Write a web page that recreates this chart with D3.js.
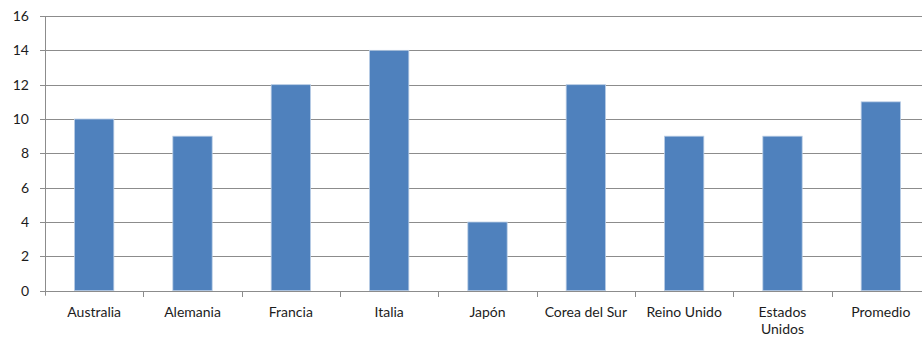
<!DOCTYPE html>
<html>
<head>
<meta charset="utf-8">
<script src="https://cdn.jsdelivr.net/npm/d3@7/dist/d3.min.js"></script>
<style>
  html, body { margin: 0; padding: 0; background: #fff; }
  svg { display: block; }
  text { font-family: Lato, "Open Sans", sans-serif; fill: #1c1c1c; }
</style>
</head>
<body>
<svg id="chart" width="922" height="337"></svg>
<script>
// Country categories and their values
const categories = ["Australia", "Alemania", "Francia", "Italia", "Japón", "Corea del Sur", "Reino Unido", "Estados Unidos", "Promedio"];
const values = [10, 9, 12, 14, 4, 12, 9, 9, 11];
const yTicks = [0, 2, 4, 6, 8, 10, 12, 14, 16];

const svg = d3.select("#chart");
const plotLeft = 45, plotRight = 930, plotTop = 16, plotBottom = 290.7;

const x = d3.scaleBand()
  .domain(categories)
  .range([plotLeft, plotRight])
  .paddingInner(0.6)
  .paddingOuter(0.3);

const y = d3.scaleLinear().domain([0, 16]).range([plotBottom, plotTop]);

// horizontal gridlines
svg.append("g")
  .selectAll("line")
  .data(yTicks)
  .join("line")
  .attr("x1", plotLeft - 5)
  .attr("x2", 922)
  .attr("y1", d => Math.round(y(d)) + 0.5)
  .attr("y2", d => Math.round(y(d)) + 0.5)
  .attr("stroke", "#8c8c8c")
  .attr("stroke-width", 1);

// y tick labels
svg.append("g")
  .selectAll("text")
  .data(yTicks)
  .join("text")
  .attr("x", 29)
  .attr("y", d => y(d))
  .attr("dy", "0.36em")
  .attr("text-anchor", "end")
  .style("font-size", "14px")
  .text(d => d);

// bars
svg.append("g")
  .selectAll("rect")
  .data(values)
  .join("rect")
  .attr("x", (d, i) => x(categories[i]))
  .attr("y", d => y(d))
  .attr("width", x.bandwidth())
  .attr("height", d => plotBottom - y(d))
  .attr("fill", "#4f81bd")
  .attr("stroke", "#b9cde5")
  .attr("stroke-width", 0.8);

// y axis line
svg.append("line")
  .attr("x1", plotLeft + 0.5).attr("x2", plotLeft + 0.5)
  .attr("y1", plotTop).attr("y2", plotBottom + 5)
  .attr("stroke", "#8c8c8c");

// x axis line
svg.append("line")
  .attr("x1", plotLeft).attr("x2", 922)
  .attr("y1", Math.round(plotBottom) + 0.5).attr("y2", Math.round(plotBottom) + 0.5)
  .attr("stroke", "#8c8c8c");

// category tick marks at band boundaries
const step = x.step();
const boundaries = d3.range(1, categories.length).map(i => plotLeft + i * step);
svg.append("g")
  .selectAll("line")
  .data(boundaries)
  .join("line")
  .attr("x1", d => Math.round(d) + 0.5)
  .attr("x2", d => Math.round(d) + 0.5)
  .attr("y1", Math.round(plotBottom))
  .attr("y2", Math.round(plotBottom) + 6)
  .attr("stroke", "#8c8c8c");

// category labels (wrapped where the label is too long for one line)
const labelLines = { "Estados Unidos": ["Estados", "Unidos"] };
svg.append("g")
  .selectAll("text")
  .data(categories)
  .join("text")
  .attr("x", d => x(d) + x.bandwidth() / 2)
  .attr("y", 317)
  .attr("text-anchor", "middle")
  .style("font-size", "14px")
  .each(function (d) {
    const lines = labelLines[d] || [d];
    d3.select(this).selectAll("tspan")
      .data(lines)
      .join("tspan")
      .attr("x", x(d) + x.bandwidth() / 2)
      .attr("dy", (l, i) => i === 0 ? 0 : 17)
      .text(l => l);
  });
</script>
</body>
</html>
